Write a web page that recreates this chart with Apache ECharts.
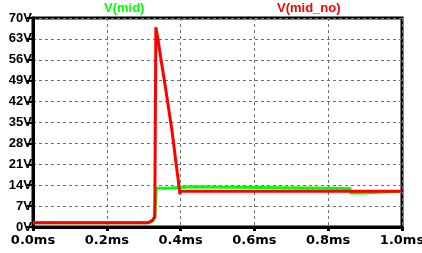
<!DOCTYPE html>
<html>
<head>
<meta charset="utf-8">
<script src="https://cdn.jsdelivr.net/npm/echarts@6/dist/echarts.min.js"></script>
<style>
html,body{margin:0;padding:0;background:#fff;}
#chart{width:422px;height:253px;}
</style>
</head>
<body>
<div id="chart"></div>
<script>
// Tick labels
var xTickLabels = ['0.0ms','0.2ms','0.4ms','0.6ms','0.8ms','1.0ms'];
var yTickLabels = ['0V','7V','14V','21V','28V','35V','42V','49V','56V','63V','70V'];
// Series names
var seriesNames = ['V(mid)', 'V(mid_no)'];
// V(mid_no) (red): time in ms, voltage in V
var redT = [0, 0.311, 0.318, 0.325, 0.330, 0.3325, 0.333, 0.339, 0.347, 0.358, 0.377, 0.388, 0.396, 0.398, 0.400, 1.0];
var redV = [1.4, 1.4, 1.8, 2.3, 3.5, 4.0, 66.9, 62.6, 56.0, 47.5, 32.0, 21.0, 13.4, 11.0, 12.0, 12.0];
// V(mid) (green)
var greenT = [0, 0.311, 0.318, 0.325, 0.330, 0.3335, 0.334, 0.363, 0.364, 0.430, 0.431, 0.859, 0.860, 0.894, 0.895, 1.0];
var greenV = [1.4, 1.4, 1.8, 2.3, 3.5, 4.0, 13.0, 13.0, 13.5, 13.5, 13.0, 12.9, 11.4, 11.4, 12.0, 12.0];

function pairs(t, v){ return t.map(function(x,i){ return [x, v[i]]; }); }

var FONT = 'DejaVu Sans';
var FONT2 = 'Liberation Sans';
var chart = echarts.init(document.getElementById('chart'), null, {renderer:'canvas'});
chart.setOption({
  animation: false,
  backgroundColor: '#fff',
  title: [
    {text: seriesNames[0], left: 104, top: 2, padding: 0, textStyle:{color:'#00ff00', fontFamily:FONT2, fontWeight:'bold', fontSize:13}},
    {text: seriesNames[1], left: 277, top: 2, padding: 0, textStyle:{color:'#ff0000', fontFamily:FONT2, fontWeight:'bold', fontSize:13}}
  ],
  grid: {left:33, right:20, top:18, bottom:26, containLabel:false, outerBoundsMode:'none',
    show:true, borderColor:'#000', borderWidth:3, backgroundColor:'transparent'},
  xAxis: {
    type:'value', min:0, max:1, interval:0.2,
    axisLine:{show:true, lineStyle:{color:'#000', width:3}},
    axisTick:{show:true, length:4, lineStyle:{color:'#000', width:3}},
    axisLabel:{margin:7, color:'#000', fontFamily:FONT, fontWeight:'bold', fontSize:13,
      formatter:function(v){ return xTickLabels[Math.round(v/0.2)]; }},
    splitLine:{show:true, lineStyle:{color:'#707070', width:1, type:[3,3]}}
  },
  yAxis: {
    type:'value', min:0, max:70, interval:7,
    axisLine:{show:true, lineStyle:{color:'#000', width:3}},
    axisTick:{show:true, length:6, lineStyle:{color:'#000', width:2}},
    axisLabel:{margin:1, color:'#000', fontFamily:FONT2, fontWeight:'bold', fontSize:13,
      formatter:function(v){ return yTickLabels[Math.round(v/7)]; }},
    splitLine:{show:true, lineStyle:{color:'#707070', width:1, type:[3,3]}}
  },
  series: [
    {name:seriesNames[0], type:'line', data:pairs(greenT, greenV), showSymbol:false, z:2,
      lineStyle:{color:'#00ff00', width:3}, itemStyle:{color:'#00ff00'}},
    {name:seriesNames[1], type:'line', data:pairs(redT, redV), showSymbol:false, z:3,
      lineStyle:{color:'#ff0000', width:3}, itemStyle:{color:'#ff0000'}}
  ]
});
</script>
</body>
</html>
